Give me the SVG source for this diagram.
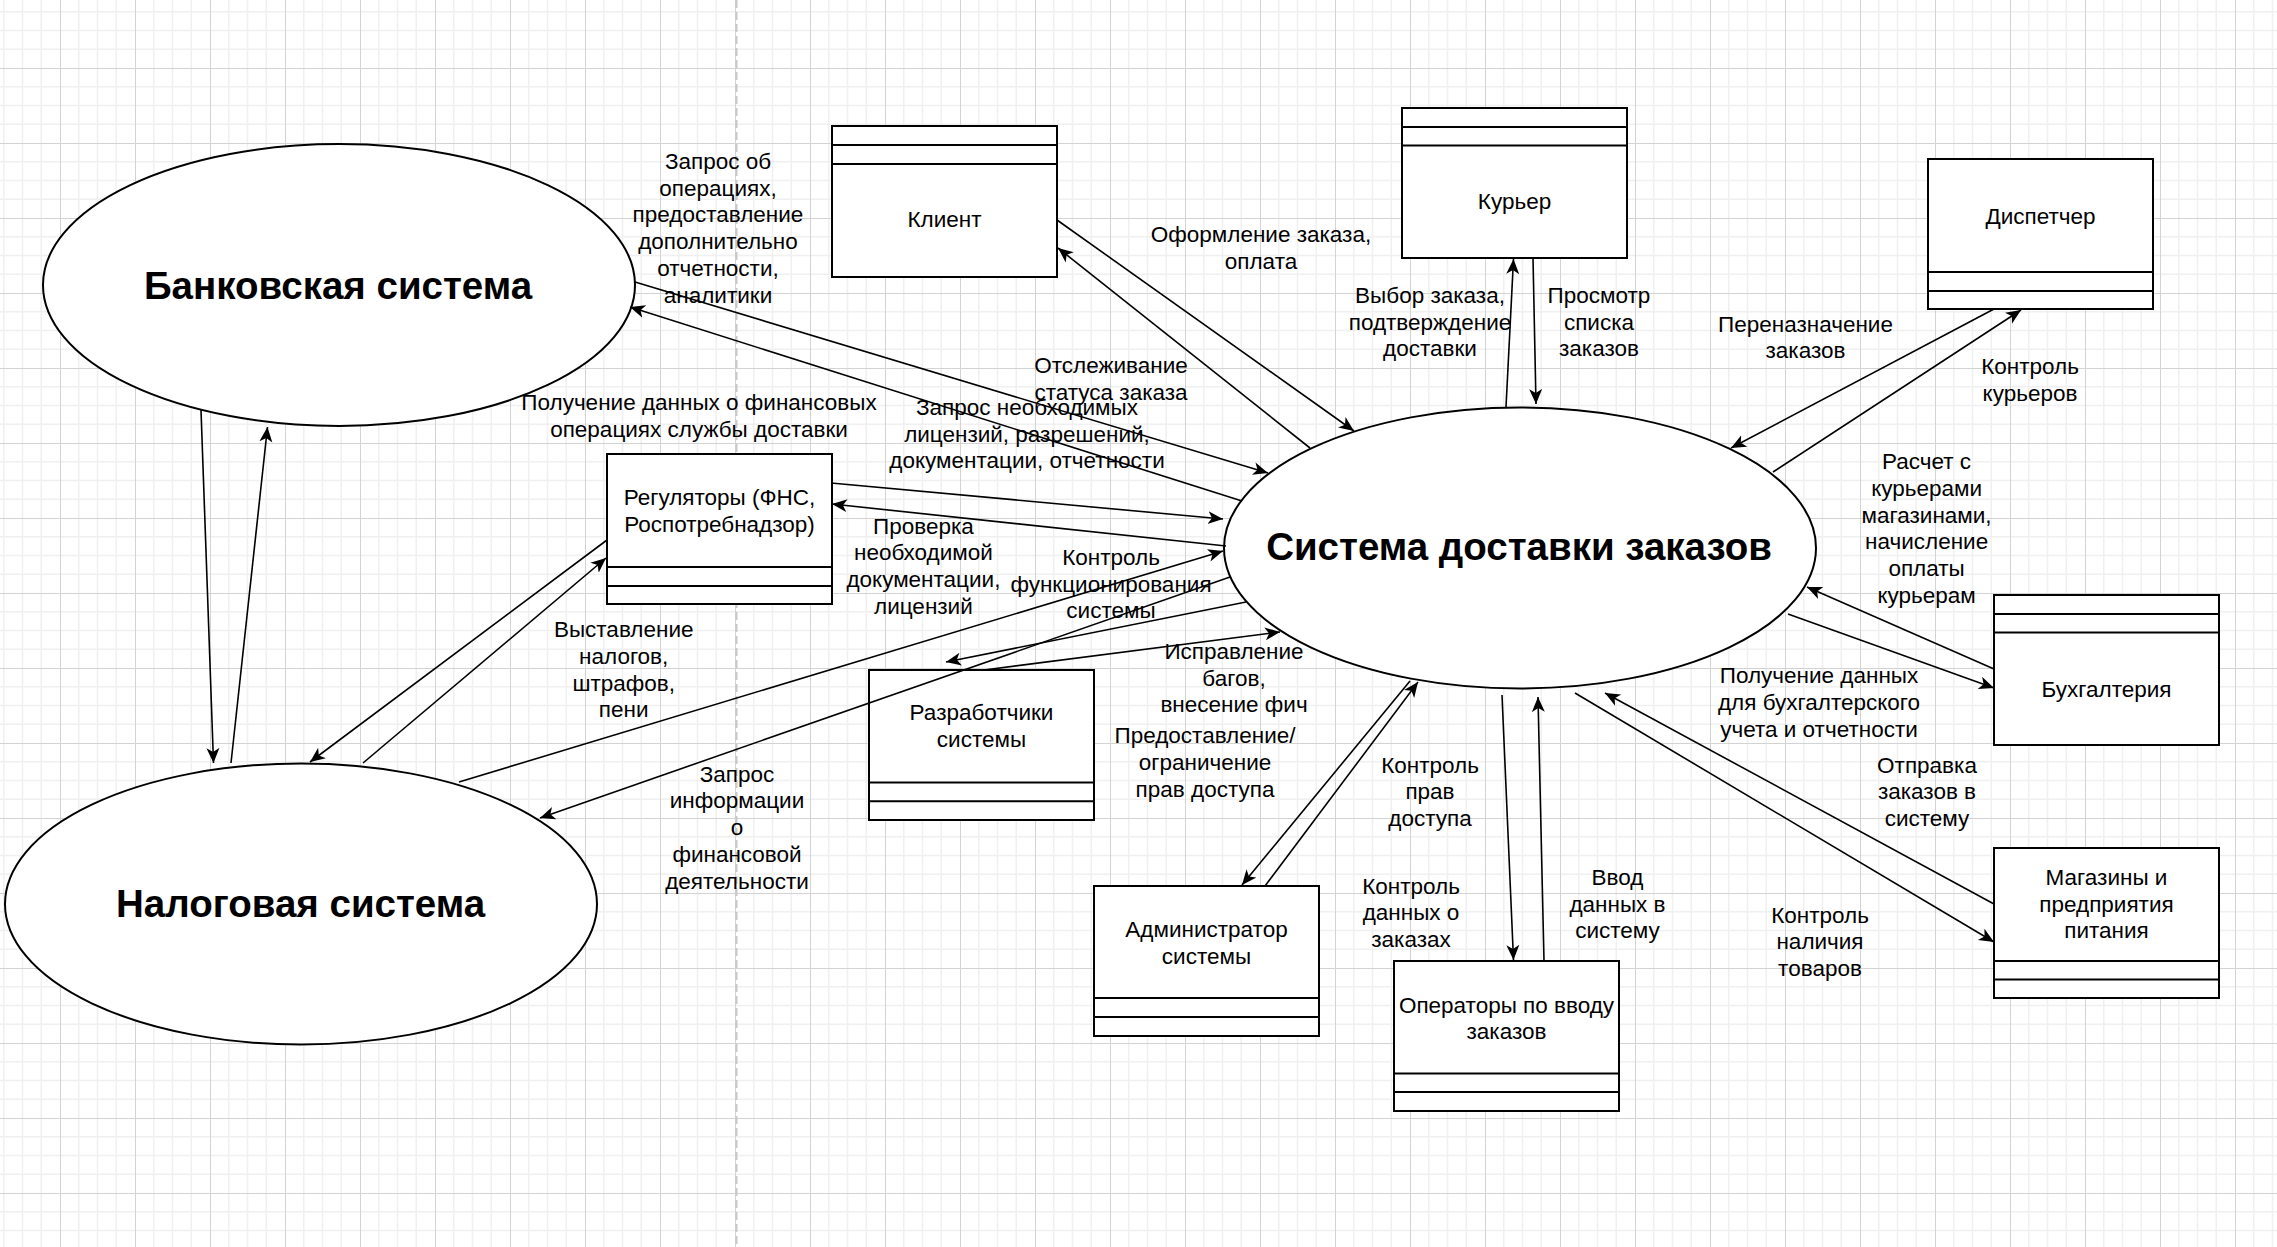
<svg xmlns="http://www.w3.org/2000/svg" width="2277" height="1247" viewBox="0 0 2277 1247">
<style>
.box{fill:#ffffff;stroke:#000000;stroke-width:2}
.row{fill:none;stroke:#000000;stroke-width:2}
.ell{fill:#ffffff;stroke:#000000;stroke-width:2}
.edge{fill:none;stroke:#000000;stroke-width:1.6;marker-end:url(#arrow)}
.lbl{font-family:"Liberation Sans",Arial,sans-serif;font-size:22.5px;fill:#000000;text-anchor:middle}
.title{font-family:"Liberation Sans",Arial,sans-serif;font-size:38.5px;font-weight:bold;fill:#000000;text-anchor:middle}
</style>
<defs>
<pattern id="grid" x="60" y="68" width="75" height="75" patternUnits="userSpaceOnUse">
<path d="M18.75 0V75M37.5 0V75M56.25 0V75M0 18.75H75M0 37.5H75M0 56.25H75" stroke="#f0f0f0" stroke-width="1.5" fill="none"/>
<path d="M0.5 0V75M0 0.5H75" stroke="#d3d3d3" stroke-width="1" fill="none"/>
</pattern>
<marker id="arrow" markerUnits="userSpaceOnUse" markerWidth="17" markerHeight="15" refX="15" refY="7" orient="auto">
<path d="M15,7 L0,0.5 L4,7 L0,13.5 Z" fill="#000000"/>
</marker>
</defs>
<rect x="0" y="0" width="2277" height="1247" fill="#ffffff"/>
<rect x="0" y="0" width="2277" height="1247" fill="url(#grid)"/>
<line x1="736.5" y1="0" x2="736.5" y2="1247" stroke="#c8c8c8" stroke-width="2" stroke-dasharray="8 4"/>

<g id="bank-system">
<ellipse class="ell" cx="339" cy="285" rx="296" ry="141"/>
<text class="title" x="338" y="299">Банковская система</text>
</g>
<g id="tax-system">
<ellipse class="ell" cx="301" cy="904" rx="296" ry="140.5"/>
<text class="title" x="300.6" y="916.7">Налоговая система</text>
</g>
<g id="delivery-system">
<ellipse class="ell" cx="1520" cy="548" rx="296" ry="140.5"/>
<text class="title" x="1519" y="560">Система доставки заказов</text>
</g>

<g id="client">
<rect class="box" x="832" y="126" width="225" height="151"/>
<path class="row" d="M832,145H1057M832,164H1057"/>
<text class="lbl" x="944.5" y="227">Клиент</text>
</g>
<g id="courier">
<rect class="box" x="1402" y="108" width="225" height="150"/>
<path class="row" d="M1402,127H1627M1402,145.5H1627"/>
<text class="lbl" x="1514.5" y="208.5">Курьер</text>
</g>
<g id="dispatcher">
<rect class="box" x="1928" y="159" width="225" height="150"/>
<path class="row" d="M1928,272H2153M1928,291H2153"/>
<text class="lbl" x="2040.5" y="223.5">Диспетчер</text>
</g>
<g id="regulators">
<rect class="box" x="607" y="454" width="225" height="150"/>
<path class="row" d="M607,567H832M607,586H832"/>
<text class="lbl" x="719.5" y="505"><tspan x="719.5">Регуляторы (ФНС,</tspan><tspan x="719.5" dy="26.7">Роспотребнадзор)</tspan></text>
</g>
<g id="developers">
<rect class="box" x="869" y="670" width="225" height="150"/>
<path class="row" d="M869,782.5H1094M869,801.3H1094"/>
<text class="lbl" x="981.5" y="720"><tspan x="981.5">Разработчики</tspan><tspan x="981.5" dy="26.7">системы</tspan></text>
</g>
<g id="administrator">
<rect class="box" x="1094" y="886" width="225" height="150"/>
<path class="row" d="M1094,998H1319M1094,1017H1319"/>
<text class="lbl" x="1206.5" y="937"><tspan x="1206.5">Администратор</tspan><tspan x="1206.5" dy="26.7">системы</tspan></text>
</g>
<g id="operators">
<rect class="box" x="1394" y="961" width="225" height="150"/>
<path class="row" d="M1394,1073.5H1619M1394,1092H1619"/>
<text class="lbl" x="1506.5" y="1012.5"><tspan x="1506.5">Операторы по вводу</tspan><tspan x="1506.5" dy="26.7">заказов</tspan></text>
</g>
<g id="accounting">
<rect class="box" x="1994" y="595" width="225" height="150"/>
<path class="row" d="M1994,614H2219M1994,632.5H2219"/>
<text class="lbl" x="2106.5" y="696.5">Бухгалтерия</text>
</g>
<g id="shops">
<rect class="box" x="1994" y="848" width="225" height="150"/>
<path class="row" d="M1994,961H2219M1994,979.5H2219"/>
<text class="lbl" x="2106.5" y="885"><tspan x="2106.5">Магазины и</tspan><tspan x="2106.5" dy="26.7">предприятия</tspan><tspan x="2106.5" dy="26.7">питания</tspan></text>
</g>

<g id="connectors">
<path class="edge" d="M635,282 L1268,473"/>
<path class="edge" d="M1242,501 L630,307"/>
<path class="edge" d="M1057,220 L1354,431"/>
<path class="edge" d="M1310,448 L1058,248"/>
<path class="edge" d="M1506,407 L1513.5,259"/>
<path class="edge" d="M1533,258 L1536,404"/>
<path class="edge" d="M1994,309 L1731,448"/>
<path class="edge" d="M1773,472 L2021,310"/>
<path class="edge" d="M1994,669 L1807,587"/>
<path class="edge" d="M1788,614 L1994,688"/>
<path class="edge" d="M1994,904 L1605,693"/>
<path class="edge" d="M1575,693 L1994,942"/>
<path class="edge" d="M1502,695 L1513.5,960"/>
<path class="edge" d="M1544,961 L1538,697"/>
<path class="edge" d="M1410,681 L1242,885"/>
<path class="edge" d="M1265,886 L1418,682"/>
<path class="edge" d="M1246,602 L946,662"/>
<path class="edge" d="M984,670 L1280,632"/>
<path class="edge" d="M831,483 L1223,519"/>
<path class="edge" d="M1226,546 L832,504"/>
<path class="edge" d="M459,782 L1223,551"/>
<path class="edge" d="M1230,577 L540,818"/>
<path class="edge" d="M607,540 L310,762"/>
<path class="edge" d="M363,763 L606,558"/>
<path class="edge" d="M201,410 L213.5,763"/>
<path class="edge" d="M231,763 L267.5,427"/>
<g id="edge-labels">
<text class="lbl" x="718" y="169"><tspan x="718">Запрос об</tspan><tspan x="718" dy="26.7">операциях,</tspan><tspan x="718" dy="26.7">предоставление</tspan><tspan x="718" dy="26.7">дополнительно</tspan><tspan x="718" dy="26.7">отчетности,</tspan><tspan x="718" dy="26.7">аналитики</tspan></text>
<text class="lbl" x="1261" y="242"><tspan x="1261">Оформление заказа,</tspan><tspan x="1261" dy="26.7">оплата</tspan></text>
<text class="lbl" x="1111" y="373"><tspan x="1111">Отслеживание</tspan><tspan x="1111" dy="26.7">статуса заказа</tspan></text>
<text class="lbl" x="1027" y="415"><tspan x="1027">Запрос необходимых</tspan><tspan x="1027" dy="26.7">лицензий, разрешений,</tspan><tspan x="1027" dy="26.7">документации, отчетности</tspan></text>
<text class="lbl" x="699" y="410"><tspan x="699">Получение данных о финансовых</tspan><tspan x="699" dy="26.7">операциях службы доставки</tspan></text>
<text class="lbl" x="1430" y="303"><tspan x="1430">Выбор заказа,</tspan><tspan x="1430" dy="26.7">подтверждение</tspan><tspan x="1430" dy="26.7">доставки</tspan></text>
<text class="lbl" x="1599" y="303"><tspan x="1599">Просмотр</tspan><tspan x="1599" dy="26.7">списка</tspan><tspan x="1599" dy="26.7">заказов</tspan></text>
<text class="lbl" x="1805.5" y="331.7"><tspan x="1805.5">Переназначение</tspan><tspan x="1805.5" dy="26.7">заказов</tspan></text>
<text class="lbl" x="2030" y="374"><tspan x="2030">Контроль</tspan><tspan x="2030" dy="26.7">курьеров</tspan></text>
<text class="lbl" x="1926.6" y="469.3"><tspan x="1926.6">Расчет с</tspan><tspan x="1926.6" dy="26.7">курьерами</tspan><tspan x="1926.6" dy="26.7">магазинами,</tspan><tspan x="1926.6" dy="26.7">начисление</tspan><tspan x="1926.6" dy="26.7">оплаты</tspan><tspan x="1926.6" dy="26.7">курьерам</tspan></text>
<text class="lbl" x="1819" y="683.3"><tspan x="1819">Получение данных</tspan><tspan x="1819" dy="26.7">для бухгалтерского</tspan><tspan x="1819" dy="26.7">учета и отчетности</tspan></text>
<text class="lbl" x="1927" y="772.7"><tspan x="1927">Отправка</tspan><tspan x="1927" dy="26.7">заказов в</tspan><tspan x="1927" dy="26.7">систему</tspan></text>
<text class="lbl" x="1820" y="922.7"><tspan x="1820">Контроль</tspan><tspan x="1820" dy="26.7">наличия</tspan><tspan x="1820" dy="26.7">товаров</tspan></text>
<text class="lbl" x="1617.5" y="885"><tspan x="1617.5">Ввод</tspan><tspan x="1617.5" dy="26.7">данных в</tspan><tspan x="1617.5" dy="26.7">систему</tspan></text>
<text class="lbl" x="1411" y="893.7"><tspan x="1411">Контроль</tspan><tspan x="1411" dy="26.7">данных о</tspan><tspan x="1411" dy="26.7">заказах</tspan></text>
<text class="lbl" x="1430" y="772.7"><tspan x="1430">Контроль</tspan><tspan x="1430" dy="26.7">прав</tspan><tspan x="1430" dy="26.7">доступа</tspan></text>
<text class="lbl" x="1234" y="659"><tspan x="1234">Исправление</tspan><tspan x="1234" dy="26.7">багов,</tspan><tspan x="1234" dy="26.7">внесение фич</tspan></text>
<text class="lbl" x="1205" y="743.3"><tspan x="1205">Предоставление/</tspan><tspan x="1205" dy="26.7">ограничение</tspan><tspan x="1205" dy="26.7">прав доступа</tspan></text>
<text class="lbl" x="923.4" y="533.5"><tspan x="923.4">Проверка</tspan><tspan x="923.4" dy="26.7">необходимой</tspan><tspan x="923.4" dy="26.7">документации,</tspan><tspan x="923.4" dy="26.7">лицензий</tspan></text>
<text class="lbl" x="1111" y="565"><tspan x="1111">Контроль</tspan><tspan x="1111" dy="26.7">функционирования</tspan><tspan x="1111" dy="26.7">системы</tspan></text>
<text class="lbl" x="623.7" y="637.3"><tspan x="623.7">Выставление</tspan><tspan x="623.7" dy="26.7">налогов,</tspan><tspan x="623.7" dy="26.7">штрафов,</tspan><tspan x="623.7" dy="26.7">пени</tspan></text>
<text class="lbl" x="737" y="781.7"><tspan x="737">Запрос</tspan><tspan x="737" dy="26.7">информации</tspan><tspan x="737" dy="26.7">о</tspan><tspan x="737" dy="26.7">финансовой</tspan><tspan x="737" dy="26.7">деятельности</tspan></text>
</g>
</g>
</svg>
